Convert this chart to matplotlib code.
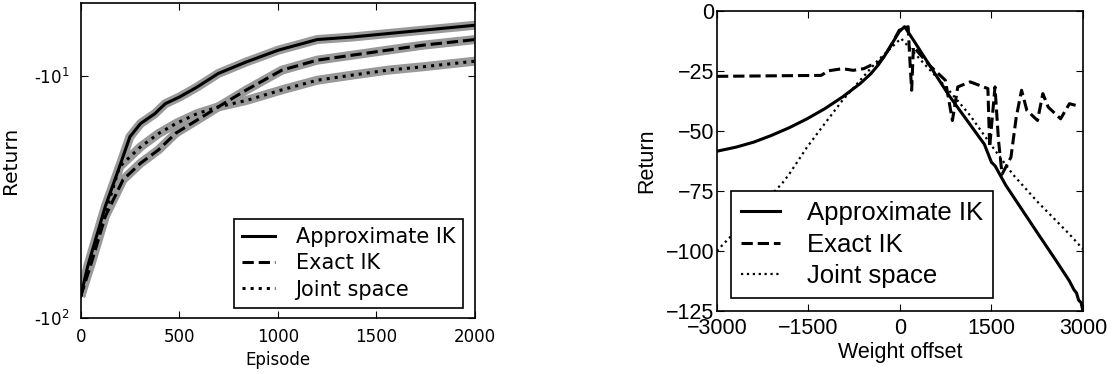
import numpy as np
import matplotlib
matplotlib.use('Agg')
import matplotlib.pyplot as plt

# =============================================================================
# Data
# =============================================================================
# left panel: learning curves
episodes_approx = [0, 36, 125, 197, 250, 304, 376, 429, 501, 590, 698, 841,
                   1002, 1199, 1378, 1556, 1735, 2000]
return_approx   = [-81.4, -61.0, -34.6, -23.7, -17.8, -15.7, -14.3, -13.0,
                   -12.2, -11.1, -9.75, -8.73, -7.81, -7.06, -6.89, -6.67,
                   -6.46, -6.16]

episodes_exact  = [0, 54, 125, 215, 304, 394, 483, 590, 698, 841, 1020, 1199,
                   1378, 1556, 1735, 2000]
return_exact    = [-81.4, -59.3, -38.0, -26.8, -22.9, -20.2, -17.2, -15.2,
                   -13.4, -11.4, -9.45, -8.59, -8.19, -7.81, -7.45, -7.06]

episodes_joint  = [0, 54, 125, 197, 304, 394, 483, 590, 698, 841, 1020, 1199,
                   1378, 1556, 1735, 2000]
return_joint    = [-81.4, -55.7, -36.9, -23.7, -19.6, -17.3, -15.7, -14.3,
                   -13.4, -12.6, -11.4, -10.4, -9.9, -9.45, -9.15, -8.67]

# right panel: return vs. weight offset
offset_approx = [-3000, -2686, -2395, -2105, -1814, -1523, -1233, -942, -651,
                 -477, -360, -244, -128, -12, 76, 221, 802, 1384, 1500, 1560,
                 1733, 2256, 2547, 2779, 2850, 2895, 2930, 2970, 3000]
ret_approx    = [-58.4, -56.7, -54.6, -51.8, -48.6, -44.9, -40.7, -35.8,
                 -30.2, -26.1, -22.6, -18.4, -13.5, -8.6, -6.5, -12.1, -35.1,
                 -55.5, -63.0, -64.5, -72.5, -92.5, -103.5, -112.5, -116.0,
                 -117.5, -120.5, -121.5, -125.0]

offset_exact = [-3000, -1291, -1174, -942, -767, -593, -477, -360, -244, -128,
                -12, 134, 163, 192, 221, 512, 744, 860, 948, 1151, 1442, 1471,
                1558, 1616, 1674, 1820, 1907, 1994, 2081, 2256, 2343, 2430,
                2634, 2779, 2884]
ret_exact    = [-27.2, -26.8, -24.9, -24.0, -24.7, -24.0, -22.6, -21.9, -18.4,
                -13.5, -8.0, -6.5, -20.5, -33.0, -14.9, -23.3, -28.8, -45.6,
                -31.6, -29.5, -32.3, -56.7, -31.6, -53.9, -68.0, -60.9, -44.2,
                -33.0, -41.4, -45.6, -34.4, -40.0, -44.9, -38.6, -39.3]

offset_joint = [-3000, -2948, -1930, -1814, -1523, -1233, -942, -651, -360,
                -128, 17, 395, 802, 1151, 1500, 1849, 2256, 2547, 2779, 3000]
ret_joint    = [-100.0, -98.5, -71.8, -67.9, -56.7, -46.9, -37.2, -28.8,
                -20.5, -14.9, -11.4, -21.9, -33.0, -43.5, -56.0, -68.0,
                -79.5, -87.0, -93.0, -99.2]

labels = ['Approximate IK', 'Exact IK', 'Joint space']
styles = ['-', '--', ':']

# =============================================================================
# Plot
# =============================================================================
plt.rcParams['xtick.direction'] = 'in'
plt.rcParams['ytick.direction'] = 'in'
plt.rcParams['xtick.top'] = True
plt.rcParams['ytick.right'] = True
plt.rcParams['xtick.major.size'] = 5
plt.rcParams['ytick.major.size'] = 5
plt.rcParams['axes.linewidth'] = 1.2

fig = plt.figure(figsize=(11.14, 3.74), dpi=100)

# Panel 1: learning curves
ax = fig.add_axes([0.0724, 0.1497, 0.354, 0.8414])
curves = [(episodes_approx, return_approx),
          (episodes_exact, return_exact),
          (episodes_joint, return_joint)]
for x, y in curves:
    ax.plot(x, y, '-', color='0.6', lw=6.5, solid_capstyle='butt')
for (x, y), ls, lab in zip(curves, styles, labels):
    ax.plot(x, y, ls, color='k', lw=2.2, label=lab)
ax.set_yscale('symlog', linthresh=1)
ax.set_ylim(-100, -5)
ax.set_xlim(0, 2000)
ax.set_yticks([-10, -100])
ax.set_yticklabels([r'-10$^{1}$', r'-10$^{2}$'])
ax.yaxis.set_minor_locator(matplotlib.ticker.NullLocator())
ax.set_xticks([0, 500, 1000, 1500, 2000])
ax.tick_params(axis='x', labelsize=12, pad=7)
ax.tick_params(axis='y', labelsize=12, pad=8)
ax.set_xlabel('Episode', fontsize=12, labelpad=4)
ax.set_ylabel('Return', fontsize=14.5, labelpad=10)
leg = ax.legend(loc='lower left', bbox_to_anchor=(0.389, 0.032), fontsize=15,
                fancybox=False, framealpha=1, edgecolor='k',
                handlelength=1.55, handletextpad=1.0, borderaxespad=0,
                labelspacing=0.3)
leg.get_frame().set_linewidth(1.2)

# Panel 2: weight offset sweep
font2 = 'Liberation Sans'
ax = fig.add_axes([0.6436, 0.1684, 0.3285, 0.802])
ax.plot(offset_approx, ret_approx, '-', color='k', lw=2.2, label=labels[0])
ax.plot(offset_exact, ret_exact, '--', color='k', lw=2.2, label=labels[1])
ax.plot(offset_joint, ret_joint, ':', color='k', lw=1.6, label=labels[2])
ax.set_xlim(-3000, 3000)
ax.set_ylim(-125, 0)
ax.set_xticks([-3000, -1500, 0, 1500, 3000])
ax.set_yticks([0, -25, -50, -75, -100, -125])
ax.tick_params(axis='x', pad=5)
ax.tick_params(axis='y', pad=2)
for t in ax.get_xticklabels() + ax.get_yticklabels():
    t.set_family(font2)
    t.set_fontsize(15.5)
ax.set_xlabel('Weight offset', fontsize=15.5, family=font2, labelpad=2)
ax.set_ylabel('Return', fontsize=15.5, family=font2, labelpad=6)
leg = ax.legend(loc='lower left', bbox_to_anchor=(0.038, 0.043),
                prop={'family': font2, 'size': 18.5}, fancybox=False,
                framealpha=1, edgecolor='k', handlelength=1.5,
                handletextpad=1.05, borderaxespad=0, labelspacing=0.28)
leg.get_frame().set_linewidth(1.2)

fig.savefig('out.png', dpi=100)
